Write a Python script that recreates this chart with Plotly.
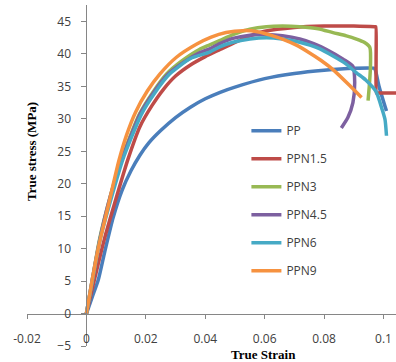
import plotly.graph_objects as go

# ---- data ----
series_names = ["PP", "PPN1.5", "PPN3", "PPN4.5", "PPN6", "PPN9"]
series_colors = ["#4A7EBB", "#BE4B48", "#98B954", "#7D60A0", "#46AAC5", "#F69240"]

pp_strain = [0, 0.002, 0.004, 0.0062, 0.009, 0.012, 0.015, 0.018, 0.021, 0.025, 0.03, 0.035, 0.04,
             0.045, 0.05, 0.06, 0.07, 0.08, 0.09, 0.0968, 0.0972, 0.0985, 0.101]
pp_stress = [0, 2.6, 5.2, 9.6, 14.8, 19.0, 22.0, 24.4, 26.3, 28.2, 30.2, 31.8, 33.1,
             34.1, 34.9, 36.2, 37.0, 37.5, 37.8, 37.8, 37.6, 35.0, 31.2]

ppn15_strain = [0, 0.003, 0.006, 0.0095, 0.014, 0.018, 0.022, 0.026, 0.03, 0.035, 0.04, 0.045,
                0.05, 0.055, 0.06, 0.07, 0.08, 0.09, 0.0972, 0.0974, 0.0975, 0.0976, 0.0978, 0.105]
ppn15_stress = [0, 5.8, 11.4, 17.0, 23.8, 28.8, 32.0, 34.6, 36.6, 38.3, 39.6, 40.7,
                41.8, 42.8, 43.5, 44.1, 44.3, 44.3, 44.2, 44.2, 39.0, 34.0, 34.0, 34.0]

ppn3_strain = [0, 0.0022, 0.0044, 0.008, 0.0118, 0.0178, 0.0225, 0.0269, 0.032, 0.038, 0.0415,
               0.045, 0.0493, 0.055, 0.0606, 0.066, 0.0718, 0.078, 0.083, 0.0875, 0.0909, 0.0935,
               0.0954, 0.0956, 0.0952, 0.0948]
ppn3_stress = [0, 5.8, 11.4, 18.0, 23.8, 30.7, 34.2, 36.9, 38.9, 40.7, 41.4,
               42.1, 43.0, 43.8, 44.2, 44.3, 44.2, 43.9, 43.3, 42.8, 42.3, 41.8,
               41.0, 38.0, 35.0, 32.8]

ppn45_strain = [0, 0.0022, 0.0045, 0.008, 0.012, 0.018, 0.0225, 0.0275, 0.033, 0.0382, 0.0415,
                0.0449, 0.0493, 0.055, 0.0606, 0.066, 0.0718, 0.0765, 0.0808, 0.0864, 0.0897,
                0.0903, 0.0897, 0.088, 0.0858]
ppn45_stress = [0, 5.8, 11.4, 18.0, 23.8, 30.7, 34.0, 36.9, 38.8, 40.2, 40.8,
                41.6, 42.4, 42.9, 43.0, 42.8, 42.3, 41.6, 40.7, 39.2, 38.1,
                35.6, 32.5, 30.2, 28.6]

ppn6_strain = [0, 0.0023, 0.0046, 0.0085, 0.0123, 0.0185, 0.023, 0.028, 0.035, 0.0415, 0.0449,
               0.0493, 0.055, 0.0606, 0.066, 0.0718, 0.078, 0.083, 0.087, 0.0909, 0.094, 0.0975,
               0.0995, 0.1005, 0.101]
ppn6_stress = [0, 5.8, 11.4, 18.0, 23.8, 30.7, 34.0, 36.9, 39.3, 40.3, 41.1,
               41.8, 42.3, 42.5, 42.3, 41.8, 40.9, 39.7, 38.6, 37.1, 36.0, 34.2,
               31.5, 29.9, 27.4]

ppn9_strain = [0, 0.002, 0.0042, 0.0073, 0.0109, 0.0135, 0.0165, 0.0205, 0.0247, 0.0303, 0.037,
               0.042, 0.047, 0.0527, 0.058, 0.062, 0.066, 0.0705, 0.075, 0.079, 0.083, 0.0887,
               0.0926]
ppn9_stress = [0, 5.3, 10.5, 16.5, 23.5, 27.5, 31.0, 34.3, 36.9, 39.5, 41.5,
               42.6, 43.3, 43.6, 43.4, 42.9, 42.3, 41.4, 40.2, 39.0, 37.6, 35.1,
               33.3]

x_tickvals = [-0.02, 0, 0.02, 0.04, 0.06, 0.08, 0.1]
x_ticktext = ["-0.02", "0", "0.02", "0.04", "0.06", "0.08", "0.1"]
y_tickvals = [-5, 0, 5, 10, 15, 20, 25, 30, 35, 40, 45]

x_title = "True Strain"
y_title = "True stress (MPa)"

strains = [pp_strain, ppn15_strain, ppn3_strain, ppn45_strain, ppn6_strain, ppn9_strain]
stresses = [pp_stress, ppn15_stress, ppn3_stress, ppn45_stress, ppn6_stress, ppn9_stress]

# ---- figure ----
W, H = 396, 362
ML, MR, MT, MB = 27, 0, 5, 16
x_range = [-0.02, 0.1042]
y_range = [-5, 47.55]

fig = go.Figure()
for name, color, xs, ys in zip(series_names, series_colors, strains, stresses):
    fig.add_trace(go.Scatter(
        x=xs, y=ys, mode="lines", name=name, legendgroup=name,
        line=dict(color=color, width=3.5, shape="spline", smoothing=0.6), showlegend=True,
    ))

axis_color = "#868686"
tick_font = dict(family="Open Sans, Liberation Sans, sans-serif", size=12, color="#404040")

pw = W - ML - MR
ph = H - MT - MB

fig.update_layout(
    width=W, height=H,
    margin=dict(l=ML, r=MR, t=MT, b=MB, pad=0, autoexpand=False),
    paper_bgcolor="white", plot_bgcolor="white",
    showlegend=True,
    legend=dict(
        x=(246.4 - ML) / pw, y=1 - (116.3 - MT) / ph, xanchor="left", yanchor="top",
        font=dict(family="Open Sans, Liberation Sans, sans-serif", size=12, color="#404040"),
        bgcolor="rgba(0,0,0,0)", itemwidth=30, traceorder="grouped", tracegroupgap=9,
    ),
    xaxis=dict(
        range=x_range, showgrid=False, zeroline=False, automargin=False,
        showline=True, linecolor=axis_color, linewidth=1,
        anchor="free", position=(0 - y_range[0]) / (y_range[1] - y_range[0]),
        ticks="outside", ticklen=4, tickcolor=axis_color,
        tickvals=x_tickvals, ticktext=x_ticktext, tickfont=tick_font,
        ticklabelstandoff=10,
    ),
    yaxis=dict(
        range=y_range, showgrid=False, zeroline=False, automargin=False,
        showline=True, linecolor=axis_color, linewidth=1,
        anchor="free", position=(0 - x_range[0]) / (x_range[1] - x_range[0]),
        ticks="outside", ticklen=5, tickcolor=axis_color,
        tickvals=y_tickvals, tickfont=tick_font,
        ticklabelstandoff=8,
    ),
)

title_font = dict(family="Liberation Serif, Times New Roman, serif", size=13, color="#000000")
fig.add_annotation(
    text="<b>" + x_title + "</b>", xref="paper", yref="paper",
    x=(263 - ML) / pw, y=(H - MB - 354.5) / ph, xanchor="center", yanchor="middle",
    showarrow=False, font=title_font,
)
fig.add_annotation(
    text="<b>" + y_title + "</b>", xref="paper", yref="paper",
    x=(32 - ML) / pw, y=(H - MB - 152) / ph, xanchor="center", yanchor="middle",
    textangle=-90, showarrow=False, font=title_font,
)

fig.write_html(
    "out.html",
    config={"displayModeBar": False},
    post_script="document.body.style.margin='0';document.body.style.overflow='hidden';",
)
